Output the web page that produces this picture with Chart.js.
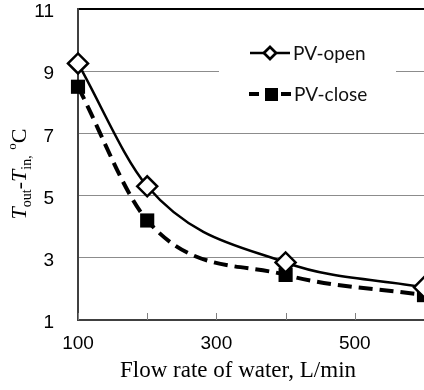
<!DOCTYPE html>
<html>
<head>
<meta charset="utf-8">
<script src="https://cdn.jsdelivr.net/npm/chart.js@4.4.1/dist/chart.umd.min.js"></script>
<style>
  html, body { margin: 0; padding: 0; background: #fff; overflow: hidden; }
  #wrap { position: relative; width: 424px; height: 390px; }
</style>
</head>
<body>
<div id="wrap"><canvas id="tempChart" width="424" height="390"></canvas></div>
<script>
// values
const flowRates = [100, 200, 400, 600];
const pvOpen = [9.25, 5.3, 2.85, 2.05];
const pvClose = [8.5, 4.2, 2.45, 1.8];
const xTickLabels = [100, 300, 500];
const yTicks = [1, 3, 5, 7, 9, 11];
const seriesNames = ['PV-open', 'PV-close'];
const xTitle = 'Flow rate of water, L/min';

const toPoints = (xs, ys) => xs.map((x, i) => ({ x: x, y: ys[i] }));

// y title with italic T and sub/superscripts
const yTitleParts = [
    { text: 'T', size: 22, italic: true, shift: 0 },
    { text: 'out', size: 14, shift: 5 },
    { text: '-', size: 22, shift: 0 },
    { text: 'T', size: 22, italic: true, shift: 0 },
    { text: 'in,', size: 14, shift: 5 },
    { text: ' ', size: 22, shift: 0 },
    { text: 'o', size: 13, shift: -10 },
    { text: 'C', size: 22, shift: 0 }
];

const extrasPlugin = {
    id: 'extras',
    afterDraw(chart) {
        const ctx = chart.ctx;
        const xs = chart.scales.x;
        const area = chart.chartArea;

        // inner tick marks on the x axis
        ctx.save();
        ctx.strokeStyle = '#7f7f7f';
        ctx.lineWidth = 1;
        for (let v = 100; v <= 600; v += 100) {
            const px = Math.round(xs.getPixelForValue(v)) + 0.5;
            ctx.beginPath();
            ctx.moveTo(px, area.bottom - 7);
            ctx.lineTo(px, area.bottom);
            ctx.stroke();
        }
        ctx.restore();

        // x title (centred on the full original plot, not the cropped one)
        ctx.save();
        ctx.font = '23px "Liberation Serif", "Times New Roman", serif';
        ctx.fillStyle = '#000';
        ctx.textAlign = 'center';
        ctx.textBaseline = 'alphabetic';
        ctx.fillText(xTitle, 238, 377);
        ctx.restore();

        // y title
        ctx.save();
        const fontFor = p => (p.italic ? 'italic ' : '') + p.size + 'px "Liberation Serif", "Times New Roman", serif';
        let total = 0;
        yTitleParts.forEach(p => { ctx.font = fontFor(p); total += ctx.measureText(p.text).width; });
        ctx.translate(26, 174 + total / 2);
        ctx.rotate(-Math.PI / 2);
        ctx.fillStyle = '#000';
        ctx.textBaseline = 'alphabetic';
        let cx = 0;
        yTitleParts.forEach(p => {
            ctx.font = fontFor(p);
            ctx.fillText(p.text, cx, p.shift);
            cx += ctx.measureText(p.text).width;
        });
        ctx.restore();

        // legend box inside the plot
        ctx.save();
        ctx.fillStyle = '#fff';
        ctx.fillRect(219, 30, 177, 85);
        ctx.font = '19px Lato, "Open Sans", sans-serif';
        ctx.fillStyle = '#111';
        ctx.textBaseline = 'middle';

        ctx.strokeStyle = '#000';
        ctx.lineWidth = 2.5;
        ctx.beginPath();
        ctx.moveTo(250, 53);
        ctx.lineTo(290, 53);
        ctx.stroke();
        Chart.helpers.drawPoint(ctx, { pointStyle: 'rectRot', radius: 6, borderWidth: 2 }, 270, 53);
        ctx.fillStyle = '#fff';
        ctx.fill();
        ctx.stroke();
        ctx.fillStyle = '#111';
        ctx.fillText(seriesNames[0], 293, 54);

        ctx.lineWidth = 4;
        ctx.setLineDash([10, 6]);
        ctx.beginPath();
        ctx.moveTo(249, 94);
        ctx.lineTo(291, 94);
        ctx.stroke();
        ctx.setLineDash([]);
        ctx.fillStyle = '#000';
        ctx.fillRect(265, 88, 13, 13);
        ctx.fillStyle = '#111';
        ctx.fillText(seriesNames[1], 294, 95);
        ctx.restore();
    }
};

const ctx = document.getElementById('tempChart').getContext('2d');
new Chart(ctx, {
    type: 'scatter',
    data: {
        datasets: [{
            label: seriesNames[0],
            data: toPoints(flowRates, pvOpen),
            showLine: true,
            borderColor: '#000',
            borderWidth: 2.5,
            cubicInterpolationMode: 'monotone',
            pointStyle: 'rectRot',
            pointRadius: 10,
            pointBorderWidth: 2.5,
            pointBackgroundColor: '#fff',
            pointBorderColor: '#000',
            clip: false,
            order: 1
        }, {
            label: seriesNames[1],
            data: toPoints(flowRates, pvClose),
            showLine: true,
            borderColor: '#000',
            borderWidth: 4,
            borderDash: [14, 7],
            cubicInterpolationMode: 'monotone',
            pointStyle: 'rect',
            pointRadius: 10,
            pointBorderWidth: 0,
            pointBackgroundColor: '#000',
            pointBorderColor: '#000',
            clip: false,
            order: 2
        }]
    },
    options: {
        responsive: false,
        animation: false,
        events: [],
        layout: { autoPadding: false, padding: { left: 0, top: 9, right: 0, bottom: 0 } },
        plugins: {
            legend: { display: false },
            tooltip: { enabled: false }
        },
        scales: {
            x: {
                type: 'linear',
                min: 100,
                max: 600,
                afterFit: s => { s.height = 70; s.paddingLeft = 0; s.paddingRight = 0; },
                afterBuildTicks: s => { s.ticks = xTickLabels.map(v => ({ value: v })); },
                grid: { display: false, drawTicks: false },
                border: { display: true, color: '#404040', width: 2 },
                ticks: {
                    color: '#000',
                    padding: 12,
                    maxRotation: 0,
                    font: { family: '"Liberation Sans", Arial, sans-serif', size: 19 }
                }
            },
            y: {
                min: 1,
                max: 11,
                afterFit: s => { s.width = 78; s.paddingTop = 0; s.paddingBottom = 0; },
                afterBuildTicks: s => { s.ticks = yTicks.map(v => ({ value: v })); },
                grid: {
                    drawTicks: false,
                    color: c => c.tick && c.tick.value === 11 ? '#000' : '#8c8c8c',
                    lineWidth: c => c.tick && c.tick.value === 11 ? 2 : 1
                },
                border: { display: true, color: '#404040', width: 2 },
                ticks: {
                    color: '#000',
                    padding: 24,
                    labelOffset: 3,
                    font: { family: '"Liberation Sans", Arial, sans-serif', size: 19 }
                }
            }
        }
    },
    plugins: [extrasPlugin]
});
</script>
</body>
</html>
